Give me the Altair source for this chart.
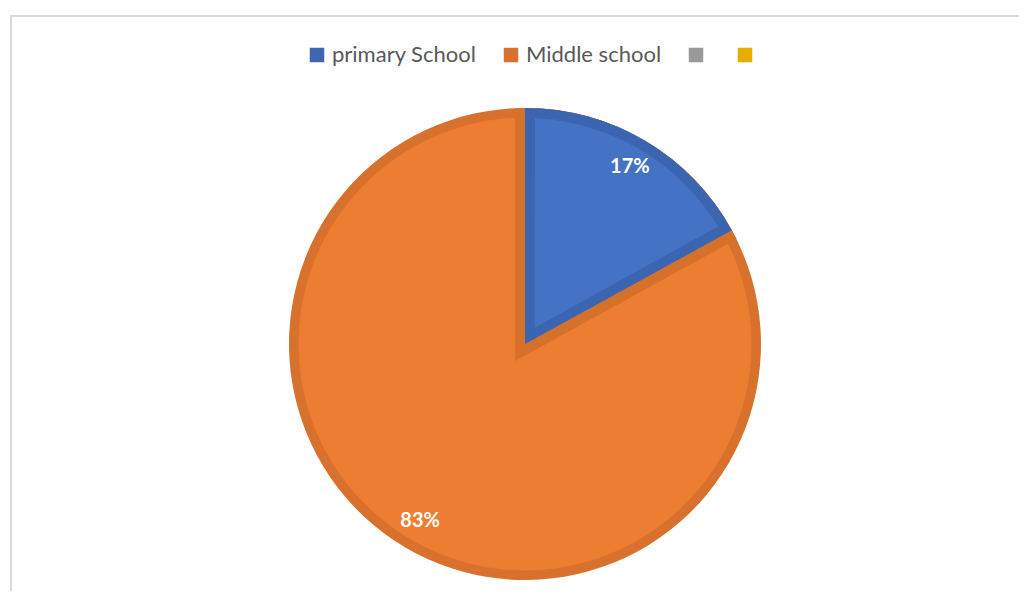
import altair as alt
import pandas as pd
import math

# ---- data ----
categories = ["primary School", "Middle school"]
values = [17, 83]
legend_domain = ["primary School", "Middle school", "Series 3", "Series 4"]
legend_colors = ["#3d66b3", "#d8712e", "#999999", "#e6ac00"]

light_blue = "#4472c4"
light_orange = "#ed7d31"
dark_blue = "#3b65b0"
dark_orange = "#d6712c"

df = pd.DataFrame({
    "school": categories,
    "value": values,
    "idx": list(range(len(categories))),
})

W, H = 1011, 583
CX, CY = 517, 336
R = 236
BAND = 10

is_blue = alt.datum.school == categories[0]

base = alt.Chart(df).encode(
    theta=alt.Theta("value:Q", stack=True),
    order=alt.Order("idx:Q"),
    detail="school:N",
)

# 1: full pie in dark border colours (carries the legend)
l1 = base.mark_arc(radius=R, x=CX, y=CY).encode(
    color=alt.Color(
        "school:N",
        scale=alt.Scale(domain=legend_domain, range=legend_colors),
        legend=alt.Legend(
            title=None,
            orient="none",
            direction="horizontal",
            legendX=298,
            legendY=36,
            symbolType="square",
            symbolSize=210,
            symbolStrokeWidth=0,
            labelFont="Lato",
            labelFontSize=22,
            labelColor="#595959",
            labelOffset=4,
            columnPadding=23,
            labelExpr="datum.label == 'Series 3' || datum.label == 'Series 4' ? '' : datum.label",
        ),
    )
)

# 2: light orange disc inside the border ring
l2 = base.mark_arc(radius=R - BAND, x=CX, y=CY, fill=light_orange, stroke=light_orange, strokeWidth=1)

# 3: dark orange band around the blue wedge (outside it)
l3 = base.mark_arc(radius=R - BAND, x=CX, y=CY, strokeWidth=2 * BAND, strokeJoin="miter").encode(
    fill=alt.condition(is_blue, alt.value(dark_orange), alt.value("transparent")),
    stroke=alt.condition(is_blue, alt.value(dark_orange), alt.value("transparent")),
)

# 4: blue wedge in dark blue
l4 = base.mark_arc(radius=R, x=CX, y=CY).encode(
    fill=alt.condition(is_blue, alt.value(dark_blue), alt.value("transparent")),
)

# 5: inset light blue wedge
r0 = 19
r1 = R - BAND
rp = (r0 ** 2 + r1 ** 2) ** 0.5
pad = 2 * math.asin(BAND / rp)
l5 = base.mark_arc(radius=r1, radius2=r0, padAngle=pad, x=CX, y=CY).encode(
    fill=alt.condition(is_blue, alt.value(light_blue), alt.value("transparent")),
)

# percentage labels
txt = base.transform_calculate(
    label="datum.value + '%'"
).mark_text(
    radius=206, x=CX, y=CY, font="Lato", fontSize=20, fontWeight="bold", color="white"
).encode(text="label:N")

# chart frame
frame_data = alt.Data(values=[{"k": 1}])
left_line = alt.Chart(frame_data).mark_rule(color="#d9d9d9", strokeWidth=2).encode(
    x=alt.value(3), y=alt.value(7), y2=alt.value(H + 20)
)
top_line = alt.Chart(frame_data).mark_rule(color="#d9d9d9", strokeWidth=2).encode(
    x=alt.value(2), x2=alt.value(W + 20), y=alt.value(8)
)

chart = alt.layer(l1, l2, l3, l4, l5, txt, left_line, top_line).properties(
    width=W, height=H, padding=0, autosize=alt.AutoSizeParams(type="none"),
    background="white",
).configure_view(stroke=None)

chart.save("out.html", embed_options={"renderer": "svg", "actions": False})
